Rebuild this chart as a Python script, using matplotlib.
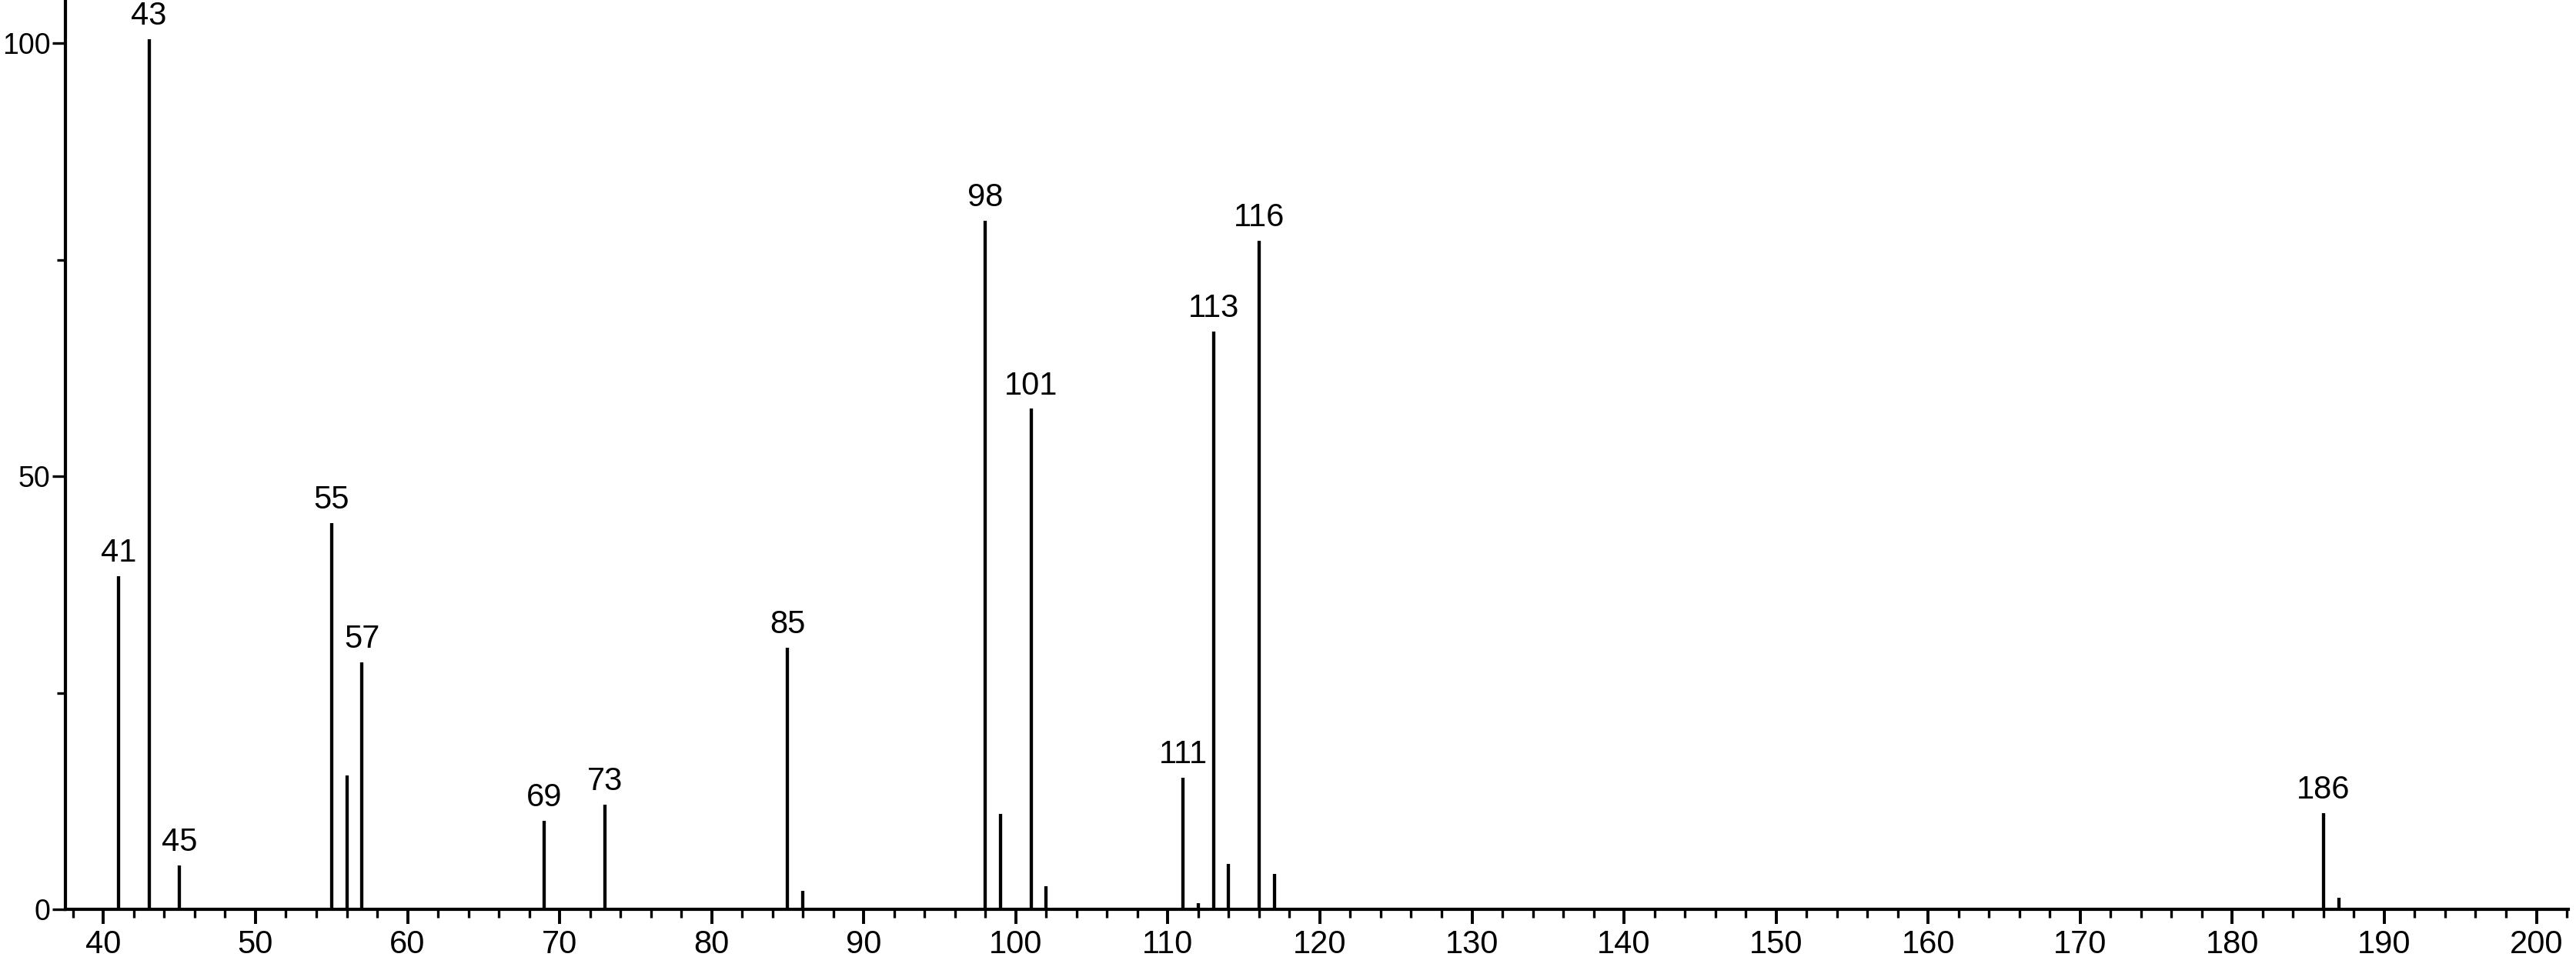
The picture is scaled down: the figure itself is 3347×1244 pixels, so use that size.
import matplotlib
matplotlib.use("Agg")
import matplotlib.pyplot as plt
from matplotlib.ticker import MultipleLocator

# m/z and relative intensity
mz = [41, 43, 45, 55, 56, 57, 69, 73, 85, 86, 98, 99, 101, 102,
      111, 112, 113, 114, 116, 117, 186, 187]
intensity = [38.5, 100.5, 5.1, 44.6, 15.5, 28.5, 10.2, 12.1, 30.2, 2.1, 79.5, 11.0, 57.8, 2.7,
             15.2, 0.7, 66.7, 5.2, 77.2, 4.1, 11.1, 1.3]
labelled = [41, 43, 45, 55, 57, 69, 73, 85, 98, 101, 111, 113, 116, 186]

plt.rcParams['font.family'] = ['Liberation Sans', 'DejaVu Sans']

fig = plt.figure(figsize=(33.48, 12.44), dpi=100)
ax = fig.add_axes([85 / 3348, 62 / 1244, (3337 - 85) / 3348, 1182 / 1244])

ax.vlines(mz, 0, intensity, colors='black', linewidth=3.1)

for m, h in zip(mz, intensity):
    if m in labelled:
        ax.annotate(str(m), (m, h), xytext=(0, 7), textcoords='offset points',
                    ha='center', va='bottom', fontsize=30)

ax.set_xlim(37.5, 202.1)
ax.set_ylim(0, 105)

ax.spines['top'].set_visible(False)
ax.spines['right'].set_visible(False)
for s in ['left', 'bottom']:
    ax.spines[s].set_linewidth(3.0)

ax.xaxis.set_major_locator(MultipleLocator(10))
ax.xaxis.set_minor_locator(MultipleLocator(2))
ax.yaxis.set_major_locator(MultipleLocator(50))
ax.yaxis.set_minor_locator(MultipleLocator(25))

ax.tick_params(axis='x', which='major', length=14, width=2.8, labelsize=30, pad=5)
ax.tick_params(axis='x', which='minor', length=8, width=2.4)
ax.tick_params(axis='y', which='major', length=12, width=2.4, labelsize=27, pad=2)
ax.tick_params(axis='y', which='minor', length=8, width=2.4)

fig.savefig('out.png', dpi=100)
